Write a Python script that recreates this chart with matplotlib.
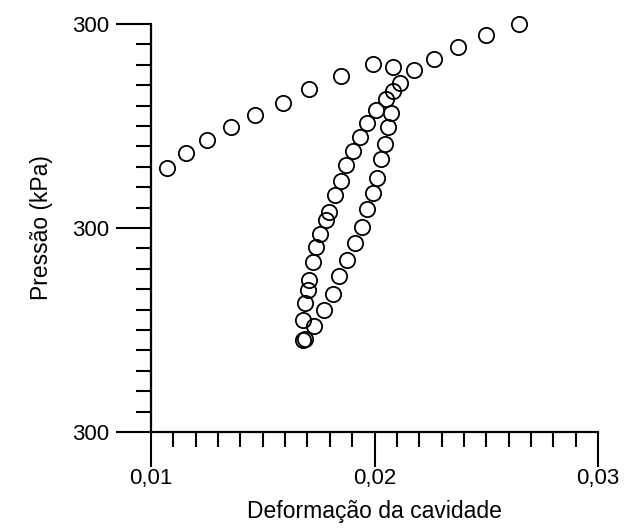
import matplotlib
matplotlib.use("Agg")
import matplotlib.pyplot as plt
from matplotlib.ticker import MultipleLocator, FixedLocator, FixedFormatter

plt.rcParams['font.family'] = ['Liberation Sans', 'DejaVu Sans']

# Upper (loading) line
top_x = [0.01070, 0.01155, 0.01249, 0.01357, 0.01467, 0.01590, 0.01709, 0.01851,
         0.01994, 0.02082, 0.02175, 0.02264, 0.02372, 0.02497, 0.02645]
top_y = [129.3, 136.6, 143.0, 149.7, 155.4, 161.1, 168.0, 174.4,
         180.5, 178.8, 177.5, 182.8, 188.9, 194.5, 200.0]

# Left branch of the loop
left_x = [0.01682, 0.01690, 0.01678, 0.01690, 0.01702, 0.01709, 0.01725, 0.01740,
          0.01758, 0.01781, 0.01797, 0.01824, 0.01850, 0.01873, 0.01903, 0.01935,
          0.01967, 0.02008, 0.02052, 0.02085, 0.02112]
left_y = [45.1, 45.6, 54.9, 63.1, 69.5, 74.4, 83.3, 90.8,
          97.1, 103.8, 108.0, 116.0, 123.0, 130.9, 137.9, 144.8,
          151.3, 157.7, 163.2, 167.2, 170.9]

# Right branch of the loop
right_x = [0.01730, 0.01773, 0.01814, 0.01843, 0.01878, 0.01912, 0.01944, 0.01966,
           0.01992, 0.02011, 0.02027, 0.02047, 0.02060, 0.02073]
right_y = [52.1, 59.8, 67.5, 76.3, 84.5, 92.8, 100.6, 109.2,
           117.2, 124.3, 133.7, 141.2, 149.7, 156.5]

x_ticks = [0.01, 0.02, 0.03]
x_tick_labels = ["0,01", "0,02", "0,03"]
y_ticks = [0, 100, 200]
y_tick_labels = ["300", "300", "300"]

fig = plt.figure(figsize=(6.24, 5.28), dpi=100)
ax = fig.add_axes([151/624, 1-432/528, (598-151)/624, (432-24)/528])

for xs, ys in [(top_x, top_y), (left_x, left_y), (right_x, right_y)]:
    ax.plot(xs, ys, linestyle='none', marker='o', markersize=11,
            markerfacecolor='none', markeredgecolor='black', markeredgewidth=1.3,
            clip_on=False)

ax.set_xlim(0.01, 0.03)
ax.set_ylim(0, 200)

for s in ['top', 'right']:
    ax.spines[s].set_visible(False)
for s in ['left', 'bottom']:
    ax.spines[s].set_linewidth(1.6)

ax.xaxis.set_major_locator(FixedLocator(x_ticks))
ax.xaxis.set_major_formatter(FixedFormatter(x_tick_labels))
ax.xaxis.set_minor_locator(MultipleLocator(0.001))
ax.yaxis.set_major_locator(FixedLocator(y_ticks))
ax.yaxis.set_major_formatter(FixedFormatter(y_tick_labels))
ax.yaxis.set_minor_locator(MultipleLocator(10))

ax.tick_params(axis='both', which='major', direction='out', length=25, width=1.5,
               labelsize=16, colors='black')
ax.tick_params(axis='both', which='minor', direction='out', length=11, width=1.5)
ax.tick_params(axis='x', which='major', pad=1)
ax.tick_params(axis='y', which='major', pad=5)

ax.set_xlabel("Deformação da cavidade", fontsize=16.5, labelpad=8)
ax.set_ylabel("Pressão (kPa)", fontsize=16.5, labelpad=14)

fig.savefig("out.png", dpi=100)
